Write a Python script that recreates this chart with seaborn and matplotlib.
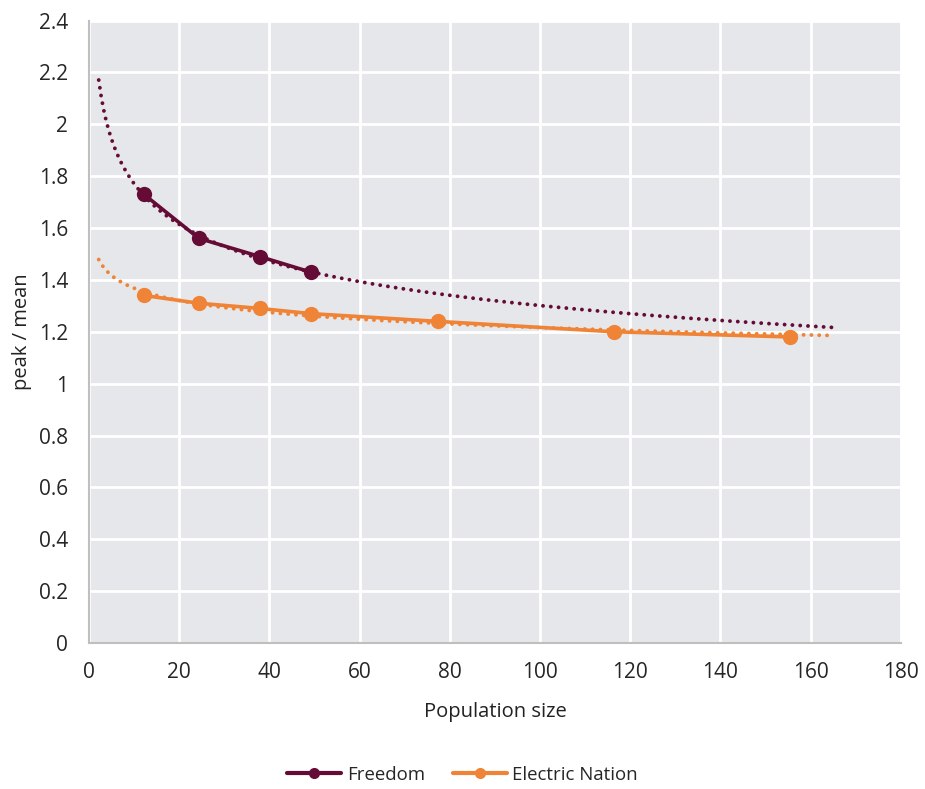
import numpy as np
import pandas as pd
import seaborn as sns
import matplotlib.pyplot as plt
from matplotlib.lines import Line2D

# values
freedom_x = [12.2, 24.4, 37.9, 49.2]
freedom_y = [1.73, 1.56, 1.49, 1.43]
en_x = [12.2, 24.4, 37.9, 49.2, 77.4, 116.4, 155.4]
en_y = [1.34, 1.31, 1.29, 1.27, 1.24, 1.20, 1.18]
trend_start = 2.2
trend_end = 165
x_ticks = list(range(0, 181, 20))
y_ticks = [0, 0.2, 0.4, 0.6, 0.8, 1, 1.2, 1.4, 1.6, 1.8, 2, 2.2, 2.4]
y_tick_labels = ["0", "0.2", "0.4", "0.6", "0.8", "1", "1.2", "1.4", "1.6", "1.8", "2", "2.2", "2.4"]

maroon = "#650C36"
orange = "#EF8336"

sns.set_theme(style="darkgrid")
plt.rcParams['font.family'] = ['Open Sans', 'DejaVu Sans']

df = pd.concat([
    pd.DataFrame({"x": freedom_x, "y": freedom_y, "series": "Freedom"}),
    pd.DataFrame({"x": en_x, "y": en_y, "series": "Electric Nation"}),
])

fig = plt.figure(figsize=(9.25, 7.89), dpi=100)
ax = fig.add_axes([0.096, 0.185, 0.878, 0.789])
ax.set_facecolor("#E6E7EB")

# power-law trendlines (Excel style) fitted to each series
xs = np.linspace(trend_start, trend_end, 300)
for x, y, c in [(freedom_x, freedom_y, maroon), (en_x, en_y, orange)]:
    b, a = np.polyfit(np.log(x), np.log(y), 1)
    ax.plot(xs, np.exp(a) * xs ** b, color=c, lw=2.8, ls=(0, (0.01, 2.0)),
            dash_capstyle="round", zorder=2)

sns.lineplot(data=df, x="x", y="y", hue="series", palette=[maroon, orange],
             marker="o", markersize=11, markeredgewidth=0, linewidth=2.6,
             sort=False, ax=ax, zorder=3, legend=False)

ax.set_xlim(0, 180)
ax.set_ylim(0, 2.4)
ax.set_xticks(x_ticks)
ax.set_yticks(y_ticks)
ax.set_yticklabels(y_tick_labels)
ax.grid(True, color="white", linewidth=2)
ax.tick_params(axis="both", labelsize=15, colors="#262626", length=0)
ax.tick_params(axis="x", pad=14)
ax.tick_params(axis="y", pad=15)
for s in ["top", "right"]:
    ax.spines[s].set_visible(False)
for s in ["left", "bottom"]:
    ax.spines[s].set_visible(True)
    ax.spines[s].set_color("#BFBFBF")
    ax.spines[s].set_linewidth(1.5)

ax.set_xlabel("Population size", fontsize=14.5, color="#222222", labelpad=13)
ax.set_ylabel("peak / mean", fontsize=14.5, color="#222222", labelpad=5)

handles = [Line2D([], [], color=maroon, lw=3, marker="o", markersize=8, markeredgewidth=0),
           Line2D([], [], color=orange, lw=3, marker="o", markersize=8, markeredgewidth=0)]
ax.legend(handles, ["Freedom", "Electric Nation"], loc="center",
          bbox_to_anchor=(0.5, 0.018), bbox_transform=fig.transFigure, ncol=2,
          frameon=False, fontsize=13.4, handlelength=2.9, columnspacing=1.5,
          handletextpad=0.3, labelcolor="#262626")

fig.savefig("out.png", dpi=100)
